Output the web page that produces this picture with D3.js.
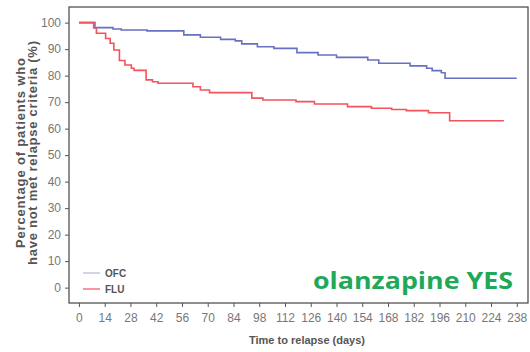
<!DOCTYPE html>
<html>
<head>
<meta charset="utf-8">
<script src="https://cdn.jsdelivr.net/npm/d3@7"></script>
<style>
  html, body { margin: 0; padding: 0; background: #fff; }
  svg { display: block; }
</style>
</head>
<body>
<div id="chart"></div>
<script>
// Kaplan-Meier step points: [day, % without relapse]
const ofcSteps = [
  [0, 100], [8.7, 98.1], [18.5, 97.6], [23, 97.2], [37, 96.9], [57, 95.4],
  [66, 94.5], [77, 93.7], [85, 93.1], [88.5, 92.0], [97, 90.9], [106, 90.3],
  [118.5, 88.7], [130, 87.8], [140, 86.9], [157, 85.9], [163, 84.7],
  [180, 83.7], [189, 82.8], [192, 81.9], [197, 81.1], [199, 79.0], [238, 79.0]
];
const fluSteps = [
  [0, 100], [8, 98], [9.5, 96], [14.5, 94], [17, 92.2], [19, 89.7], [22, 85.7],
  [25, 84], [28.5, 82.8], [30, 82], [36.5, 78.4], [40, 77.7], [43, 77.1],
  [62, 75.8], [66, 74.6], [71, 73.6], [94, 71.5], [100, 70.8], [118, 70.2],
  [128, 69.3], [146, 68.3], [159, 67.7], [170, 67.2], [178, 66.8], [190, 66.0],
  [201.5, 63.0], [231, 63.0]
];
const xTicks = [0, 14, 28, 42, 56, 70, 84, 98, 112, 126, 140, 154, 168, 182, 196, 210, 224, 238];
const yTicks = [0, 10, 20, 30, 40, 50, 60, 70, 80, 90, 100];
const seriesNames = ['OFC', 'FLU'];
const seriesColors = ['#6770c2', '#f2535c'];
const legendColors = ['#b4b9cf', '#f2535c'];

const W = 530, H = 352;
const frame = { left: 69, top: 7, right: 528, bottom: 303 };
const font = "'Liberation Sans Narrow', 'Liberation Sans', Arial, sans-serif";

const svg = d3.select('#chart').append('svg')
  .attr('width', W).attr('height', H);

const x = d3.scaleLinear().domain([-5.4, 244.1]).range([frame.left, frame.right]);
const y = d3.scaleLinear().domain([-5.8, 105.9]).range([frame.bottom, frame.top]);

svg.append('rect')
  .attr('x', frame.left).attr('y', frame.top)
  .attr('width', frame.right - frame.left).attr('height', frame.bottom - frame.top)
  .attr('fill', 'none').attr('stroke', '#444').attr('stroke-width', 1.2);

svg.append('g')
  .attr('transform', `translate(0,${frame.bottom})`)
  .call(d3.axisBottom(x).tickValues(xTicks).tickSize(4).tickPadding(6))
  .call(g => g.select('.domain').remove())
  .call(g => g.selectAll('.tick line').attr('stroke', '#555'))
  .call(g => g.selectAll('.tick text').attr('fill', '#777')
    .style('font-family', font).style('font-size', '12px'));

svg.append('g')
  .attr('transform', `translate(${frame.left},0)`)
  .call(d3.axisLeft(y).tickValues(yTicks).tickSize(4).tickPadding(4))
  .call(g => g.select('.domain').remove())
  .call(g => g.selectAll('.tick line').attr('stroke', '#555'))
  .call(g => g.selectAll('.tick text').attr('fill', '#777')
    .style('font-family', font).style('font-size', '12px'));

svg.append('text')
  .attr('x', 307).attr('y', 344)
  .attr('text-anchor', 'middle')
  .style('font-family', font).style('font-size', '11px').style('font-weight', 'bold')
  .attr('fill', '#555')
  .text('Time to relapse (days)');

const yTitle = svg.append('text')
  .attr('transform', 'translate(25,153) rotate(-90)')
  .attr('text-anchor', 'middle')
  .style('font-family', "'Liberation Sans', Arial, sans-serif")
  .style('font-size', '13px').style('font-weight', 'bold')
  .attr('fill', '#555');
yTitle.append('tspan').attr('x', 0).attr('dy', 0)
  .attr('textLength', 190).attr('lengthAdjust', 'spacing')
  .text('Percentage of patients who');
yTitle.append('tspan').attr('x', 0).attr('dy', 12)
  .attr('textLength', 224).attr('lengthAdjust', 'spacing')
  .text('have not met relapse criteria (%)');

const line = d3.line()
  .x(d => x(d[0]))
  .y(d => y(d[1]))
  .curve(d3.curveStepAfter);

[ofcSteps, fluSteps].forEach((data, i) => {
  svg.append('path').datum(data)
    .attr('fill', 'none')
    .attr('stroke', seriesColors[i])
    .attr('stroke-width', 1.6)
    .attr('d', line);
});

const legend = svg.append('g');
seriesNames.forEach((name, i) => {
  const ly = 273 + i * 16;
  legend.append('line')
    .attr('x1', 83).attr('x2', 100).attr('y1', ly).attr('y2', ly)
    .attr('stroke', legendColors[i]).attr('stroke-width', 1.2);
  legend.append('text')
    .attr('x', 105).attr('y', ly).attr('dy', '0.35em')
    .style('font-family', font).style('font-size', '10px').style('font-weight', 'bold')
    .attr('fill', '#555')
    .text(name);
});

svg.append('text')
  .attr('x', 313).attr('y', 289)
  .attr('textLength', 200).attr('lengthAdjust', 'spacingAndGlyphs')
  .style('font-family', "'Open Sans', Lato, sans-serif")
  .style('font-size', '23px').style('font-weight', '700')
  .attr('fill', '#1fa85a')
  .text('olanzapine YES');
</script>
</body>
</html>
